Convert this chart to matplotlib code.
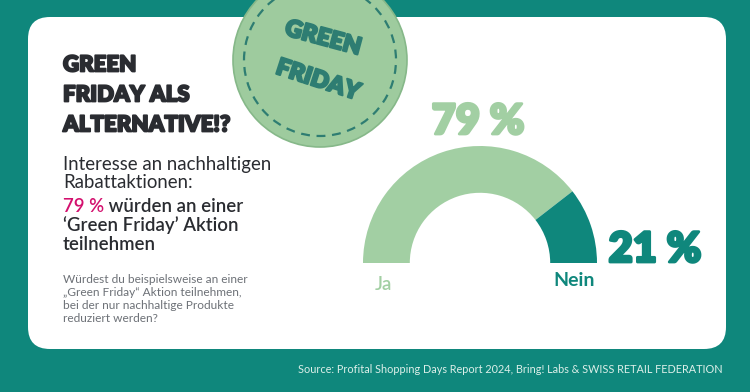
import numpy as np
import matplotlib.pyplot as plt
import matplotlib.patheffects as pe
from matplotlib.patches import FancyBboxPatch, Circle

plt.rcParams['font.family'] = ['Lato', 'DejaVu Sans']

# Data
labels = ['Ja', 'Nein']
shares = [79, 21]
share_labels = ['79 %', '21 %']

title_lines = ['GREEN', 'FRIDAY ALS', 'ALTERNATIVE!?']
question = ['Würdest du beispielsweise an einer',
            '„Green Friday“ Aktion teilnehmen,',
            'bei der nur nachhaltige Produkte',
            'reduziert werden?']
source = 'Source: Profital Shopping Days Report 2024, Bring! Labs & SWISS RETAIL FEDERATION'

# Colours
teal = '#0f877c'
light = '#a2cfa3'
dark = '#2a2c31'
pink = '#d3106e'
grey = '#6d7177'
badge_txt = '#2e7d72'


def thick(color, w=1.2):
    return [pe.withStroke(linewidth=w, foreground=color)]


fig = plt.figure(figsize=(7.5, 3.92), dpi=100)
fig.patch.set_facecolor(teal)
ax = fig.add_axes([0, 0, 1, 1])
ax.set_xlim(0, 750)
ax.set_ylim(392, 0)
ax.axis('off')

# white card
card = FancyBboxPatch((28, 17), 698, 332, boxstyle='round,pad=0,rounding_size=22',
                      fc='white', ec='none', zorder=1)
ax.add_patch(card)

# badge
ax.add_patch(Circle((320, 60), 87, fc='#9ecb9e', ec='#86b889', lw=1.2, zorder=3))
ax.add_patch(Circle((320, 60), 76, fc='none', ec=badge_txt, lw=1.6,
                    ls=(0, (4, 3)), zorder=4))
ax.text(323, 38, 'GREEN', fontsize=17, fontweight='heavy', color=badge_txt,
        rotation=-15, ha='center', va='center', zorder=5, path_effects=thick(badge_txt, 1.5))
ax.text(318, 80, 'FRIDAY', fontsize=17, fontweight='heavy', color=badge_txt,
        rotation=-18, ha='center', va='center', zorder=5, path_effects=thick(badge_txt, 1.5))

# title
for i, line in enumerate(title_lines):
    ax.text(63, 65 + i * 30, line, fontsize=16, fontweight='heavy', color=dark,
            ha='left', va='center', zorder=5, path_effects=thick(dark, 1.3))

# subtitle
ax.text(63, 170, 'Interesse an nachhaltigen', fontsize=13.4, color=dark,
        ha='left', va='baseline', zorder=5)
ax.text(63, 188, 'Rabattaktionen:', fontsize=13.4, color=dark,
        ha='left', va='baseline', zorder=5)
t = ax.text(63, 212, share_labels[0], fontsize=13.4, color=pink, fontweight='semibold',
            ha='left', va='baseline', zorder=5)
ax.annotate(' würden an einer', xy=(1, 0), xycoords=t, fontsize=13.4, color=dark,
            fontweight='semibold', ha='left', va='bottom', zorder=5)
ax.text(63, 231, '‘Green Friday’ Aktion', fontsize=13.4, color=dark, fontweight='semibold',
        ha='left', va='baseline', zorder=5)
ax.text(63, 250, 'teilnehmen', fontsize=13.4, color=dark, fontweight='semibold',
        ha='left', va='baseline', zorder=5)

for i, line in enumerate(question):
    ax.text(63, 283 + i * 13, line, fontsize=8.6, color=grey,
            ha='left', va='baseline', zorder=5)

ax.text(723, 373, source, fontsize=7.8, color='#dcefe9', ha='right', va='baseline')

# gauge (half donut)
cx, cy, r = 480, 263, 117
gax = fig.add_axes([(cx - r) / 750, (392 - cy - r) / 392, 2 * r / 750, 2 * r / 392])
gax.pie(shares + [sum(shares)], colors=[light, teal, 'none'], startangle=180,
        counterclock=False, radius=1,
        wedgeprops=dict(width=0.40, edgecolor='none', linewidth=0))
gax.set_xlim(-1, 1)
gax.set_ylim(-1, 1)
gax.axis('off')

ax.text(478, 122, share_labels[0], fontsize=30, fontweight='heavy', color=light,
        ha='center', va='center', zorder=5, path_effects=thick(light, 2))
ax.text(655, 250, share_labels[1], fontsize=30, fontweight='heavy', color=teal,
        ha='center', va='center', zorder=5, path_effects=thick(teal, 2))
ax.text(383, 284, labels[0], fontsize=13.5, color=light, fontweight='semibold',
        ha='center', va='center', zorder=5)
ax.text(574, 281, labels[1], fontsize=14, color=teal, fontweight='bold',
        ha='center', va='center', zorder=5)

fig.savefig('out.png', dpi=100, facecolor=teal)
